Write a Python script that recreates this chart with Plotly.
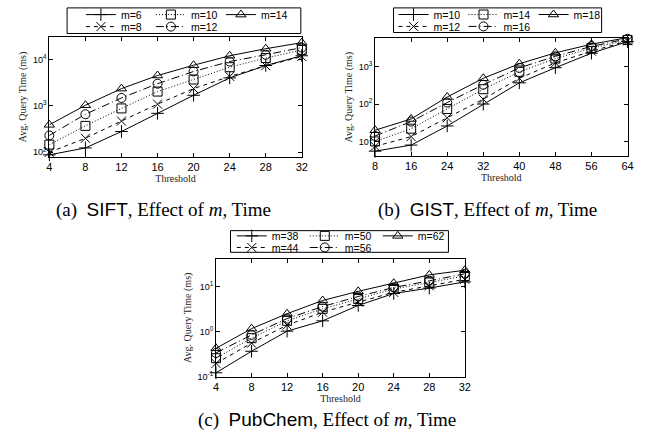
import plotly.graph_objects as go

# ---------------- data ----------------
sift_threshold = [4, 8, 12, 16, 20, 24, 28, 32]
sift_labels = ["m=6", "m=8", "m=10", "m=12", "m=14"]
sift_m6 = [88, 124, 280, 690, 1690, 4000, 7400, 12000]
sift_m8 = [100, 200, 470, 1090, 2350, 4300, 7300, 11500]
sift_m10 = [146, 370, 880, 2030, 3700, 6800, 10700, 16000]
sift_m12 = [230, 660, 1480, 3000, 5500, 9000, 12600, 18000]
sift_m14 = [390, 1030, 2350, 4500, 7500, 12000, 17000, 23000]
sift_yticks = [100, 1000, 10000]
sift_yticktext = ["10<sup>2</sup>", "10<sup>3</sup>", "10<sup>4</sup>"]

gist_threshold = [8, 16, 24, 32, 40, 48, 56, 64]
gist_labels = ["m=10", "m=12", "m=14", "m=16", "m=18"]
gist_m10 = [5.5, 8, 26, 100, 370, 940, 2300, 4700]
gist_m12 = [7.4, 13.5, 43, 135, 490, 1270, 2600, 4900]
gist_m14 = [10, 22, 74, 250, 730, 1650, 3150, 5200]
gist_m16 = [14, 34, 110, 330, 930, 1900, 3500, 5600]
gist_m18 = [20, 40, 155, 490, 1200, 2350, 4000, 6000]
gist_yticks = [10, 100, 1000]
gist_yticktext = ["10<sup>1</sup>", "10<sup>2</sup>", "10<sup>3</sup>"]

pub_threshold = [4, 8, 12, 16, 20, 24, 28, 32]
pub_labels = ["m=38", "m=44", "m=50", "m=56", "m=62"]
pub_m38 = [0.124, 0.37, 1.03, 1.74, 3.8, 7.0, 9.2, 12.6]
pub_m44 = [0.2, 0.56, 1.4, 2.7, 4.5, 7.4, 10.3, 14.4]
pub_m50 = [0.26, 0.72, 1.74, 3.2, 5.3, 8.8, 12.2, 17.0]
pub_m56 = [0.34, 0.85, 1.95, 3.6, 6.0, 9.5, 13.3, 19.0]
pub_m62 = [0.43, 1.17, 2.5, 4.9, 7.8, 11.8, 18.0, 22.8]
pub_yticks = [0.1, 1, 10]
pub_yticktext = ["10<sup>-1</sup>", "10<sup>0</sup>", "10<sup>1</sup>"]

x_title = "Threshold"
y_title = "Avg. Query Time (ms)"
SP = "\u00a0\u00a0"
cap_a = "(a)" + SP + "<span style='font-family:Liberation Sans'>SIFT</span>, Effect of <i>m</i>, Time"
cap_b = "(b)" + SP + "<span style='font-family:Liberation Sans'>GIST</span>, Effect of <i>m</i>, Time"
cap_c = "(c)" + SP + "<span style='font-family:Liberation Sans'>PubChem</span>, Effect of <i>m</i>, Time"

# ---------------- styles ----------------
W, H = 650, 445
SANS = "Liberation Sans"
SERIF = "Liberation Serif"
styles = [
    dict(symbol="cross-thin-open", dash="solid"),
    dict(symbol="x-thin-open", dash="4px,4px"),
    dict(symbol="square-open", dash="1px,2px"),
    dict(symbol="circle-open", dash="8px,3px,1px,3px"),
    dict(symbol="triangle-up-open", dash="solid"),
]
row_of = [0, 1, 0, 1, 0]
order = [0, 2, 4, 1, 3]


def px_x(p):
    return p / W


def px_y(p):
    return 1 - p / H


fig = go.Figure()

panels = [
    dict(xs=sift_threshold, ys=[sift_m6, sift_m8, sift_m10, sift_m12, sift_m14],
         labels=sift_labels, yt=(sift_yticks, sift_yticktext),
         xaxis="x", yaxis="y", legends=("legend", "legend2"),
         dom_x=(47, 303), dom_y=(36, 157), yr=(1.908, 4.474), xr=(4, 32), dt=4,
         box=(65, 6, 302, 32), rows=(12.8, 25.0), entry=25, legx=79,
         cap=cap_a, capxy=(162.5, 211)),
    dict(xs=gist_threshold, ys=[gist_m10, gist_m12, gist_m14, gist_m16, gist_m18],
         labels=gist_labels, yt=(gist_yticks, gist_yticktext),
         xaxis="x2", yaxis="y2", legends=("legend3", "legend4"),
         dom_x=(377.3, 633.3), dom_y=(36.7, 156.7), yr=(0.605, 3.765), xr=(8, 64), dt=8,
         box=(396, 6, 607, 31), rows=(12.5, 24.8), entry=25, legx=396,
         cap=cap_b, capxy=(491, 211)),
    dict(xs=pub_threshold, ys=[pub_m38, pub_m44, pub_m50, pub_m56, pub_m62],
         labels=pub_labels, yt=(pub_yticks, pub_yticktext),
         xaxis="x3", yaxis="y3", legends=("legend5", "legend6"),
         dom_x=(216, 468.3), dom_y=(260.7, 381), yr=(-1, 1.615), xr=(4, 32), dt=4,
         box=(230.7, 232.3, 451.7, 254.3), rows=(237.6, 249.4), entry=28, legx=232,
         cap=cap_c, capxy=(328.5, 425)),
]

layout = dict(
    width=W, height=H, margin=dict(l=0, r=0, t=0, b=0),
    paper_bgcolor="white", plot_bgcolor="white",
    showlegend=True, shapes=[], annotations=[],
)

for p in panels:
    for k in order:
        st = styles[k]
        fig.add_trace(go.Scatter(
            x=p["xs"], y=p["ys"][k], name=p["labels"][k], mode="lines+markers",
            xaxis=p["xaxis"], yaxis=p["yaxis"], legend=p["legends"][row_of[k]],
            line=dict(color="black", width=1, dash=st["dash"]),
            marker=dict(symbol=st["symbol"], size=9, color="black",
                        line=dict(color="black", width=1)),
            cliponaxis=False,
        ))
    xa = "xaxis" + p["xaxis"][1:]
    ya = "yaxis" + p["yaxis"][1:]
    layout[xa] = dict(
        domain=[px_x(p["dom_x"][0]), px_x(p["dom_x"][1])], anchor=p["yaxis"],
        range=list(p["xr"]), tick0=p["xr"][0], dtick=p["dt"],
        ticks="inside", ticklen=4, tickcolor="black", mirror="allticks",
        showline=True, linecolor="black", linewidth=1, showgrid=False, zeroline=False,
        tickfont=dict(family=SANS, size=11, color="black"),
        title=dict(text=x_title, font=dict(family=SERIF, size=10, color="#222"), standoff=2),
    )
    layout[ya] = dict(
        domain=[px_y(p["dom_y"][1]), px_y(p["dom_y"][0])], anchor=p["xaxis"],
        type="log", range=list(p["yr"]),
        tickmode="array", tickvals=p["yt"][0], ticktext=p["yt"][1],
        ticks="inside", ticklen=4, tickcolor="black", mirror="allticks",
        showline=True, linecolor="black", linewidth=1, showgrid=False, zeroline=False,
        tickfont=dict(family=SANS, size=9, color="black"),
        title=dict(text=y_title, font=dict(family=SERIF, size=10, color="#222"), standoff=4),
    )
    bx0, by0, bx1, by1 = p["box"]
    layout["shapes"].append(dict(type="rect", xref="paper", yref="paper",
                                 x0=px_x(bx0), x1=px_x(bx1), y0=px_y(by1), y1=px_y(by0),
                                 line=dict(color="black", width=1)))
    for r, lg in enumerate(p["legends"]):
        layout[lg] = dict(
            x=px_x(p["legx"]), y=px_y(p["rows"][r]), xanchor="left", yanchor="middle",
            orientation="h", bgcolor="rgba(0,0,0,0)", borderwidth=0,
            font=dict(family=SANS, size=10.5, color="black"),
            itemwidth=30, entrywidth=p["entry"], entrywidthmode="pixels",
            tracegroupgap=0,
        )
    layout["annotations"].append(dict(
        text=p["cap"], xref="paper", yref="paper", x=px_x(p["capxy"][0]), y=px_y(p["capxy"][1]),
        xanchor="center", yanchor="middle", showarrow=False,
        font=dict(family=SERIF, size=19, color="black"),
    ))

fig.update_layout(**layout)
fig.write_html("out.html")
